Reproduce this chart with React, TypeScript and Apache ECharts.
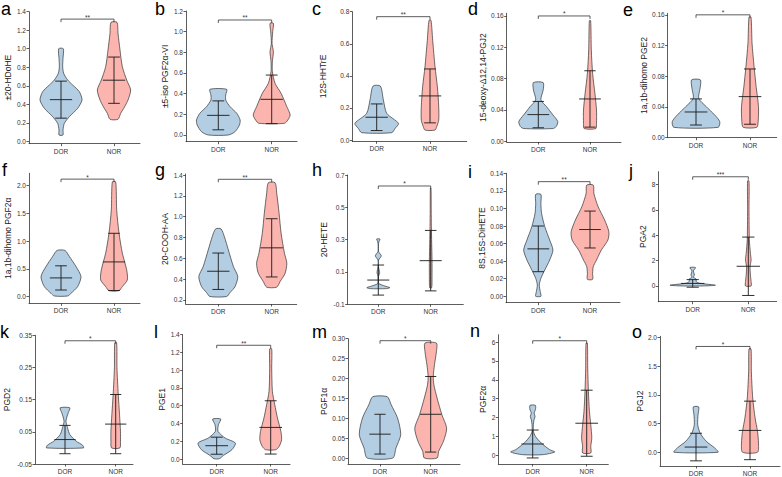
import React, { useEffect, useRef } from "react";
import * as echarts from "echarts";

const GROUPS = ["DOR", "NOR"];
const PANEL_IDS = ["a", "b", "c", "d", "e", "f", "g", "h", "i", "j", "k", "l", "m", "n", "o"];
const Y_TITLES = [
  "±20-HDoHE", "±5-iso PGF2α-VI", "12S-HHTrE", "15-deoxy-Δ12,14-PGJ2", "1a,1b-dihomo PGE2",
  "1a,1b-dihomo PGF2α", "20-COOH-AA", "20-HETE", "8S,15S-DiHETE", "PGA2",
  "PGD2", "PGE1", "PGF1α", "PGF2α", "PGJ2",
];
const Y_TICKS = [
  [0, 0.2, 0.4, 0.6, 0.8, 1.0, 1.2, 1.4],
  [0, 0.2, 0.4, 0.6, 0.8, 1.0, 1.2],
  [0, 0.2, 0.4, 0.6, 0.8],
  [0, 0.04, 0.08, 0.12, 0.16],
  [0, 0.04, 0.08, 0.12, 0.16],
  [0, 0.5, 1.0, 1.5, 2.0],
  [0.2, 0.4, 0.6, 0.8, 1.0, 1.2, 1.4],
  [-0.1, 0.1, 0.3, 0.5, 0.7],
  [0, 0.02, 0.04, 0.06, 0.08, 0.1, 0.12, 0.14],
  [0, 2, 4, 6, 8],
  [-0.05, 0.05, 0.15, 0.25, 0.35],
  [0, 0.2, 0.4, 0.6, 0.8, 1.0, 1.2, 1.4],
  [0, 0.05, 0.1, 0.15, 0.2, 0.25, 0.3],
  [0, 1, 2, 3, 4, 5, 6],
  [0, 0.5, 1.0, 1.5, 2.0],
];
const TICK_DECIMALS = [1, 1, 1, 2, 2, 1, 1, 1, 2, 0, 2, 1, 2, 0, 1];
const SIGNIF = ["**", "**", "**", "*", "*", "*", "**", "*", "**", "***", "*", "**", "*", "*", "*"];
const BRACKET_Y = [1.32, 1.113, 0.769, 0.16, 0.16, 2.115, 1.359, 0.632, 0.1305, 8.6, 0.333, 1.281, 0.295, 6.07, 1.843];

const DOR_MEAN = [0.45, 0.19, 0.142, 0.034, 0.0335, 0.337, 0.475, 0.05, 0.054, 0.2, 0.026, 0.15, 0.06, 0.6, 0.09];
const DOR_SD = [0.2, 0.14, 0.083, 0.0168, 0.017, 0.218, 0.175, 0.093, 0.026, 0.3, 0.044, 0.096, 0.05, 0.74, 0.24];
const NOR_MEAN = [0.66, 0.345, 0.275, 0.054, 0.0535, 0.625, 0.7, 0.17, 0.076, 1.55, 0.074, 0.356, 0.11, 1.7, 0.38];
const NOR_SD = [0.25, 0.235, 0.168, 0.036, 0.036, 0.515, 0.28, 0.187, 0.021, 2.3, 0.092, 0.3, 0.095, 1.75, 0.51];

// violin outlines: [value, density]
const DOR_VIOLIN = [
  [[0.068, 6], [0.122, 6], [0.194, 10], [0.266, 25], [0.356, 50], [0.446, 63], [0.536, 55], [0.608, 35], [0.662, 20], [0.734, 8], [0.806, 5], [0.896, 6], [1.0, 7]],
  [[0.0, 30], [0.032, 50], [0.097, 63], [0.145, 65], [0.21, 55], [0.274, 35], [0.339, 22], [0.387, 22], [0.442, 25]],
  [[0.046, 45], [0.073, 55], [0.104, 65], [0.166, 30], [0.249, 20], [0.336, 11]],
  [[0.0162, 45], [0.0187, 55], [0.0251, 60], [0.0336, 45], [0.0443, 25], [0.0528, 8], [0.0655, 15], [0.0749, 15]],
  [[0.0135, 65], [0.0209, 70], [0.0296, 55], [0.0405, 30], [0.0513, 8], [0.0644, 12], [0.0753, 13]],
  [[0.012, 20], [0.06, 30], [0.181, 50], [0.361, 60], [0.542, 45], [0.723, 25], [0.831, 12]],
  [[0.232, 25], [0.27, 35], [0.328, 50], [0.424, 58], [0.52, 45], [0.68, 30], [0.808, 18], [0.882, 8]],
  [[-0.003, 25], [0.003, 35], [0.013, 20], [0.03, 1], [0.071, 0.5], [0.096, 4], [0.133, 0.5], [0.174, 1], [0.2, 9], [0.226, 1], [0.267, 0.5], [0.288, 2], [0.304, 5]],
  [[0.0, 8], [0.0053, 6], [0.0129, 3], [0.0205, 8], [0.03, 20], [0.0413, 35], [0.0527, 45], [0.064, 35], [0.0792, 20], [0.0944, 10], [0.1057, 8], [0.116, 8]],
  [[0.0, 30], [0.06, 65], [0.21, 20], [0.34, 10], [0.55, 10], [0.68, 2], [0.87, 5], [1.18, 2], [1.45, 8]],
  [[0.0, 58], [0.0086, 55], [0.021, 35], [0.0417, 15], [0.0624, 8], [0.0832, 3], [0.109, 10], [0.1246, 15]],
  [[0.004, 8], [0.041, 20], [0.105, 45], [0.18, 55], [0.236, 25], [0.311, 4], [0.386, 5], [0.45, 12]],
  [[0.0, 40], [0.025, 50], [0.059, 65], [0.1006, 55], [0.134, 35], [0.154, 23]],
  [[0.035, 30], [0.176, 65], [0.3, 50], [0.653, 25], [1.005, 8], [1.27, 2], [1.62, 2], [1.887, 4], [2.063, 7], [2.24, 4], [2.416, 8], [2.646, 8]],
  [[0.0, 65], [0.075, 55], [0.191, 30], [0.336, 12], [0.481, 5], [0.655, 6], [0.789, 8]],
];
const NOR_VIOLIN = [
  [[0.238, 12], [0.302, 20], [0.374, 32], [0.446, 42], [0.554, 50], [0.662, 38], [0.806, 25], [0.986, 18], [1.166, 12], [1.285, 9]],
  [[0.113, 38], [0.145, 48], [0.194, 55], [0.274, 45], [0.403, 28], [0.5, 10], [0.613, 2], [0.71, 2], [0.806, 5], [0.887, 1], [1.0, 3], [1.081, 5]],
  [[0.062, 15], [0.083, 20], [0.124, 26], [0.207, 26], [0.332, 22], [0.456, 15], [0.622, 8], [0.746, 3]],
  [[0.0162, 18], [0.023, 20], [0.04, 20], [0.0613, 15], [0.0868, 8], [0.1166, 4], [0.154, 2]],
  [[0.0135, 20], [0.0209, 24], [0.0405, 25], [0.0666, 18], [0.0927, 12], [0.1231, 6], [0.157, 3]],
  [[0.108, 15], [0.181, 25], [0.301, 40], [0.482, 38], [0.783, 25], [1.145, 15], [1.566, 8], [2.066, 5]],
  [[0.322, 15], [0.376, 25], [0.456, 40], [0.552, 45], [0.648, 38], [0.84, 28], [1.032, 22], [1.224, 15], [1.326, 10]],
  [[0.003, 3], [0.071, 4], [0.174, 4], [0.277, 3], [0.38, 2], [0.484, 1.5], [0.618, 1]],
  [[0.0193, 8], [0.0262, 8], [0.0337, 10], [0.0413, 20], [0.0527, 35], [0.064, 55], [0.0735, 58], [0.0868, 45], [0.102, 25], [0.117, 12], [0.1266, 10]],
  [[0.0, 8], [0.34, 8], [0.87, 6], [1.52, 5], [2.05, 8], [2.58, 6], [3.63, 3], [6.0, 2], [8.28, 2]],
  [[0.0, 13], [0.021, 15], [0.052, 15], [0.104, 12], [0.166, 8], [0.249, 4], [0.327, 3]],
  [[0.105, 15], [0.1425, 25], [0.2175, 32], [0.311, 30], [0.461, 20], [0.611, 12], [0.761, 5], [1.024, 3], [1.241, 3]],
  [[0.0, 20], [0.0168, 25], [0.042, 40], [0.075, 50], [0.109, 35], [0.151, 20], [0.184, 10], [0.205, 8], [0.235, 12], [0.268, 18], [0.289, 18]],
  [[0.123, 12], [0.476, 12], [0.917, 15], [1.62, 12], [2.33, 8], [3.386, 5], [4.62, 3], [5.94, 2]],
  [[0.0, 22], [0.162, 25], [0.365, 22], [0.597, 15], [0.945, 8], [1.41, 4], [1.8, 3]],
];

// layout (px): axisX, dorX, norX, endX, topPx, bottomPx, yMin, yMax, nameGap
const LAYOUT = [
  [29, 61, 114, 140, 11.7, 143.7, -0.026, 1.4, 16.5],
  [186, 218.3, 271.7, 297, 11, 141.7, -0.065, 1.2, 16.5],
  [352.3, 376.7, 430, 466.7, 11.7, 141.3, -0.008, 0.8, 25],
  [506.7, 538.3, 590, 621, 13.3, 142, -0.001, 0.1634, 17],
  [667.7, 696, 750, 776.7, 13.3, 137.7, 0, 0.162, 19],
  [29, 61, 114, 140, 173.3, 303.3, -0.12, 2.22, 16.5],
  [185.7, 218.3, 271.7, 296.7, 174, 304, 0.16, 1.41, 16],
  [347.7, 378.3, 430.7, 463.3, 175, 304.3, -0.1, 0.7, 19],
  [506, 538.3, 590, 620, 173.3, 302.7, -0.0073, 0.14, 16.5],
  [658.3, 692.7, 748.3, 776.7, 171.7, 301.7, -1.24, 9, 11],
  [35, 65, 115.7, 133, 335.3, 464, -0.05, 0.35, 23.5],
  [182.7, 216.7, 270.7, 290, 334.7, 464, -0.056, 1.4, 12.5],
  [348, 380, 430.7, 460, 338.7, 464, -0.015, 0.3, 17],
  [498.3, 532.7, 586.7, 608.3, 334.7, 464, -0.46, 6.39, 10],
  [660, 696, 750, 780, 336.3, 466, -0.24, 2.02, 9],
];
const LETTER_POS = [
  [1, 15], [155, 15], [312, 15], [468, 15], [623, 16],
  [2, 176], [155, 176], [312, 176], [468, 178], [629, 177],
  [0, 338], [154, 338], [312, 338], [470, 337], [632, 338],
];

const FILLS = ["#B3CDE3", "#FBB4AE"];
const DENS = 1 / 159;
const FONT = "Liberation Sans, Arial, sans-serif";
const AXIS_COLOR = "#333";

function buildOption() {
  const grid: any[] = [];
  const xAxis: any[] = [];
  const yAxis: any[] = [];
  const series: any[] = [];
  const graphic: any[] = [];

  LAYOUT.forEach((L, i) => {
    const [ax, dx, nx, ex, top, bottom, ymin, ymax, gap] = L;
    const unit = nx - dx;
    const xmin = 1 - (dx - ax) / unit;
    const xmax = 2 + (ex - nx) / unit;
    grid.push({ left: ax, top, width: ex - ax, height: bottom - top, containLabel: false });
    xAxis.push({
      type: "value", gridIndex: i, min: xmin, max: xmax,
      axisLine: { show: true, onZero: false, lineStyle: { color: AXIS_COLOR, width: 0.8 } },
      axisTick: { show: true, customValues: [1, 2], length: 2.5, lineStyle: { color: AXIS_COLOR, width: 0.8 } },
      axisLabel: {
        customValues: [1, 2], formatter: (v: number) => GROUPS[Math.round(v) - 1],
        fontSize: 6.5, color: "#333", margin: 4, fontFamily: FONT,
      },
      splitLine: { show: false },
    });
    const dec = TICK_DECIMALS[i];
    yAxis.push({
      type: "value", gridIndex: i, min: ymin, max: ymax,
      axisLine: { show: true, onZero: false, lineStyle: { color: AXIS_COLOR, width: 0.8 } },
      axisTick: { show: true, customValues: Y_TICKS[i], length: 2.5, lineStyle: { color: AXIS_COLOR, width: 0.8 } },
      axisLabel: {
        customValues: Y_TICKS[i], formatter: (v: number) => v.toFixed(dec),
        fontSize: 6.5, color: "#333", margin: 3, fontFamily: FONT,
      },
      splitLine: { show: false },
      name: Y_TITLES[i], nameLocation: "middle", nameGap: gap, nameRotate: 90,
      nameTextStyle: { fontSize: 8.5, color: "#222", fontFamily: FONT },
    });

    const profiles = [DOR_VIOLIN[i], NOR_VIOLIN[i]];
    const means = [DOR_MEAN[i], NOR_MEAN[i]];
    const sds = [DOR_SD[i], NOR_SD[i]];

    series.push({
      type: "custom", xAxisIndex: i, yAxisIndex: i, silent: true,
      data: GROUPS.map((_, k) => [k + 1]),
      renderItem: (params: any, api: any) => {
        const k = params.dataIndex;
        const cx = k + 1;
        const prof = profiles[k];
        const right = prof.map(([v, d]: number[]) => api.coord([cx + d * DENS, v]));
        const left = prof.slice().reverse().map(([v, d]: number[]) => api.coord([cx - d * DENS, v]));
        return {
          type: "polygon",
          shape: { points: right.concat(left), smooth: 0.25 },
          style: { fill: FILLS[k], stroke: "#333", lineWidth: 0.7 },
        };
      },
    });

    series.push({
      type: "custom", xAxisIndex: i, yAxisIndex: i, silent: true,
      data: GROUPS.map((_, k) => [k + 1]),
      renderItem: (params: any, api: any) => {
        const k = params.dataIndex;
        const cx = k + 1;
        const m = means[k];
        const s = sds[k];
        const st = { stroke: "#1a1a1a", lineWidth: 0.9 };
        const seg = (x1: number, y1: number, x2: number, y2: number) => {
          const p1 = api.coord([x1, y1]);
          const p2 = api.coord([x2, y2]);
          return { type: "line", shape: { x1: p1[0], y1: p1[1], x2: p2[0], y2: p2[1] }, style: st };
        };
        return {
          type: "group",
          children: [
            seg(cx, m - s, cx, m + s),
            seg(cx - 0.11, m + s, cx + 0.11, m + s),
            seg(cx - 0.11, m - s, cx + 0.11, m - s),
            seg(cx - 0.21, m, cx + 0.21, m),
          ],
        };
      },
    });

    series.push({
      type: "custom", xAxisIndex: i, yAxisIndex: i, silent: true,
      data: [[1.5, BRACKET_Y[i]]],
      renderItem: (params: any, api: any) => {
        const yv = api.value(1);
        const p1 = api.coord([1, yv]);
        const p2 = api.coord([2, yv]);
        const tip = 3;
        return {
          type: "group",
          children: [
            {
              type: "polyline",
              shape: { points: [[p1[0], p1[1] + tip], [p1[0], p1[1]], [p2[0], p2[1]], [p2[0], p2[1] + tip]] },
              style: { stroke: "#333", lineWidth: 0.8, fill: "none" },
            },
            {
              type: "text",
              style: {
                text: SIGNIF[i], x: (p1[0] + p2[0]) / 2, y: p1[1] + 1.5,
                align: "center", verticalAlign: "bottom", fontSize: 6.5, fill: "#333", fontFamily: FONT,
              },
            },
          ],
        };
      },
    });

    graphic.push({
      type: "text",
      x: LETTER_POS[i][0],
      y: LETTER_POS[i][1] - 6,
      style: { text: PANEL_IDS[i], fontSize: 18, fill: "#000", fontFamily: FONT, verticalAlign: "middle", align: "left" },
    });
  });

  return {
    animation: false,
    backgroundColor: "#ffffff",
    textStyle: { fontFamily: FONT },
    grid, xAxis, yAxis, series, graphic,
  };
}

export default function App() {
  const ref = useRef<HTMLDivElement>(null);
  useEffect(() => {
    if (!ref.current) return;
    const chart = echarts.init(ref.current, undefined, { renderer: "svg" });
    chart.setOption(buildOption() as any);
    return () => chart.dispose();
  }, []);
  return (
    <div
      ref={ref}
      style={{ position: "fixed", left: 0, top: 0, width: 782, height: 477, background: "#fff" }}
    />
  );
}
